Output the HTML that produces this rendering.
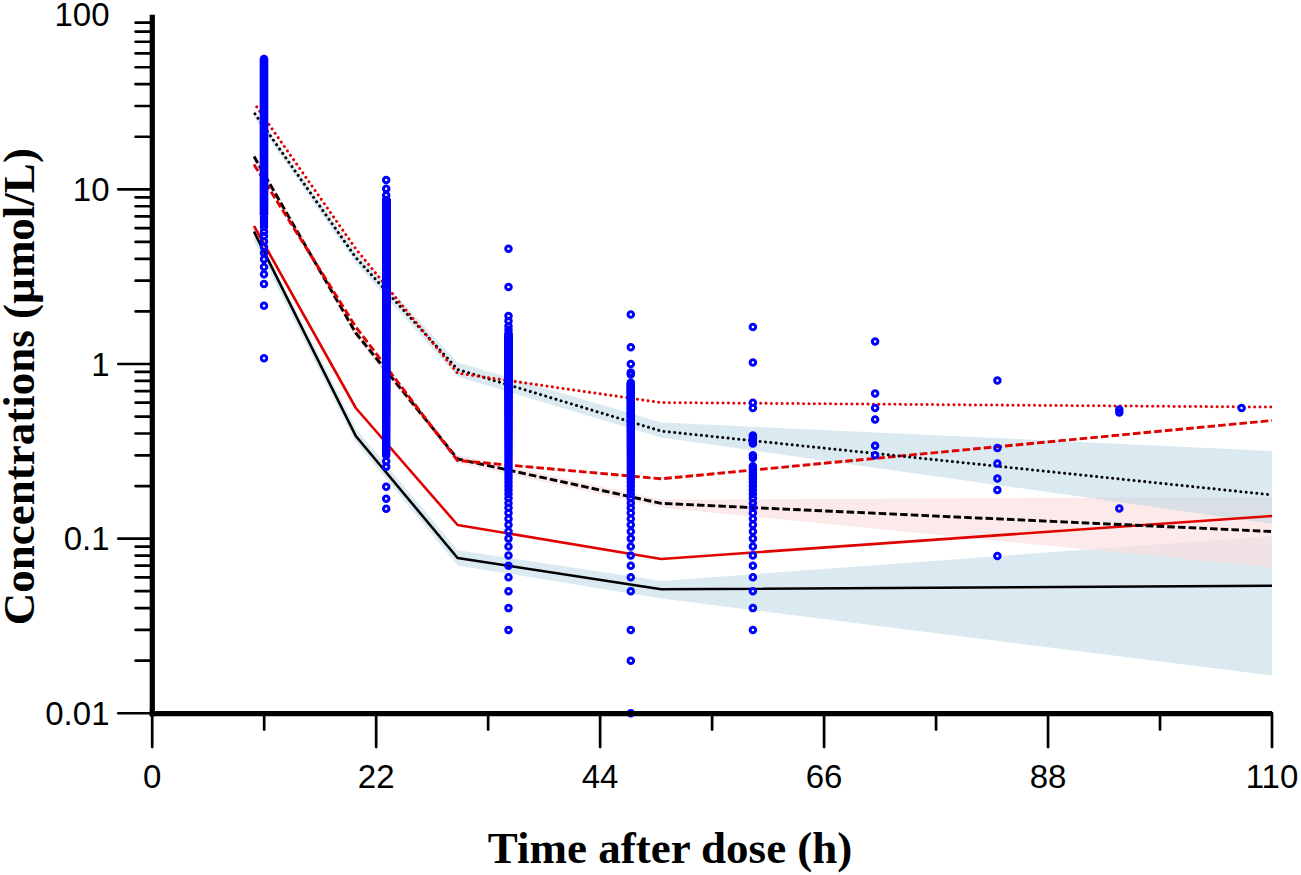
<!DOCTYPE html>
<html><head><meta charset="utf-8"><title>VPC</title>
<style>
html,body{margin:0;padding:0;background:#fff;}
body{width:1301px;height:875px;position:relative;overflow:hidden;font-family:"Liberation Sans",sans-serif;}
</style></head><body>
<svg width="1301" height="875" viewBox="0 0 1301 875" style="position:absolute;left:0;top:0">
<rect x="0" y="0" width="1301" height="875" fill="#ffffff"/>
<polygon points="254,228 355.8,428.5 457.6,550.2 661.2,581 1272,536 1272,675.5 661.2,598.5 457.6,565.4 355.8,442 254,241" fill="#bed7e4" fill-opacity="0.55"/>
<polygon points="254,152.5 355.8,328.5 457.6,455 661.2,499.6 1272,497 1272,567.6 661.2,507.6 457.6,463 355.8,337.5 254,160.5" fill="#fbe0e0" fill-opacity="0.7"/>
<polygon points="254,110 355.8,252 457.6,362.4 661.2,422.5 1272,450.9 1272,523.7 661.2,437.6 457.6,376.7 355.8,263 254,117" fill="#bed7e4" fill-opacity="0.55"/>
<g fill="none" stroke-linejoin="round">
<polyline points="254,231.5 355.8,436 457.6,558 661.2,589.3 1272,585.7" stroke="#000" stroke-width="2.6"/>
<polyline points="254,226 355.8,408 457.6,525 661.2,559 1272,516" stroke="#e00000" stroke-width="2.6"/>
<polyline points="254,156.5 355.8,333 457.6,459 661.2,503.4 1272,531.5" stroke="#000" stroke-width="2.9" stroke-dasharray="7.6 3.1"/>
<polyline points="254,164.5 355.8,327 457.6,460.5 661.2,478.8 1272,420.5" stroke="#e00000" stroke-width="2.9" stroke-dasharray="7.6 3.1"/>
<polyline points="254,112.5 355.8,257.5 457.6,369.5 661.2,431.1 1272,494.9" stroke="#000" stroke-width="3" stroke-dasharray="0.01 5.36" stroke-dashoffset="3.69" stroke-linecap="round"/>
<polyline points="254,103 355.8,248.8 457.6,373.2 661.2,402.6 1272,407.1" stroke="#e00000" stroke-width="3" stroke-dasharray="0.01 5.36" stroke-dashoffset="0.66" stroke-linecap="round"/>
</g>
<g fill="none" stroke="#0000ff" stroke-width="3">
<circle cx="264" cy="58.9" r="2.75"/>
<circle cx="264" cy="59.9" r="2.75"/>
<circle cx="264" cy="60.9" r="2.75"/>
<circle cx="264" cy="61.9" r="2.75"/>
<circle cx="264" cy="62.9" r="2.75"/>
<circle cx="264" cy="63.9" r="2.75"/>
<circle cx="264" cy="64.9" r="2.75"/>
<circle cx="264" cy="65.9" r="2.75"/>
<circle cx="264" cy="66.9" r="2.75"/>
<circle cx="264" cy="67.9" r="2.75"/>
<circle cx="264" cy="68.9" r="2.75"/>
<circle cx="264" cy="69.9" r="2.75"/>
<circle cx="264" cy="70.9" r="2.75"/>
<circle cx="264" cy="71.9" r="2.75"/>
<circle cx="264" cy="72.9" r="2.75"/>
<circle cx="264" cy="73.9" r="2.75"/>
<circle cx="264" cy="74.9" r="2.75"/>
<circle cx="264" cy="75.9" r="2.75"/>
<circle cx="264" cy="76.9" r="2.75"/>
<circle cx="264" cy="77.9" r="2.75"/>
<circle cx="264" cy="78.9" r="2.75"/>
<circle cx="264" cy="79.9" r="2.75"/>
<circle cx="264" cy="80.9" r="2.75"/>
<circle cx="264" cy="81.9" r="2.75"/>
<circle cx="264" cy="82.9" r="2.75"/>
<circle cx="264" cy="83.9" r="2.75"/>
<circle cx="264" cy="84.9" r="2.75"/>
<circle cx="264" cy="85.9" r="2.75"/>
<circle cx="264" cy="86.9" r="2.75"/>
<circle cx="264" cy="87.9" r="2.75"/>
<circle cx="264" cy="88.9" r="2.75"/>
<circle cx="264" cy="89.9" r="2.75"/>
<circle cx="264" cy="90.9" r="2.75"/>
<circle cx="264" cy="91.9" r="2.75"/>
<circle cx="264" cy="92.9" r="2.75"/>
<circle cx="264" cy="93.9" r="2.75"/>
<circle cx="264" cy="94.9" r="2.75"/>
<circle cx="264" cy="95.9" r="2.75"/>
<circle cx="264" cy="96.9" r="2.75"/>
<circle cx="264" cy="97.9" r="2.75"/>
<circle cx="264" cy="98.9" r="2.75"/>
<circle cx="264" cy="99.9" r="2.75"/>
<circle cx="264" cy="100.9" r="2.75"/>
<circle cx="264" cy="101.9" r="2.75"/>
<circle cx="264" cy="102.9" r="2.75"/>
<circle cx="264" cy="103.9" r="2.75"/>
<circle cx="264" cy="104.9" r="2.75"/>
<circle cx="264" cy="105.9" r="2.75"/>
<circle cx="264" cy="106.9" r="2.75"/>
<circle cx="264" cy="107.9" r="2.75"/>
<circle cx="264" cy="108.9" r="2.75"/>
<circle cx="264" cy="109.9" r="2.75"/>
<circle cx="264" cy="110.9" r="2.75"/>
<circle cx="264" cy="111.9" r="2.75"/>
<circle cx="264" cy="112.9" r="2.75"/>
<circle cx="264" cy="113.9" r="2.75"/>
<circle cx="264" cy="114.9" r="2.75"/>
<circle cx="264" cy="115.9" r="2.75"/>
<circle cx="264" cy="116.9" r="2.75"/>
<circle cx="264" cy="117.9" r="2.75"/>
<circle cx="264" cy="118.9" r="2.75"/>
<circle cx="264" cy="119.9" r="2.75"/>
<circle cx="264" cy="120.9" r="2.75"/>
<circle cx="264" cy="121.9" r="2.75"/>
<circle cx="264" cy="122.9" r="2.75"/>
<circle cx="264" cy="123.9" r="2.75"/>
<circle cx="264" cy="124.9" r="2.75"/>
<circle cx="264" cy="125.9" r="2.75"/>
<circle cx="264" cy="126.9" r="2.75"/>
<circle cx="264" cy="127.9" r="2.75"/>
<circle cx="264" cy="128.9" r="2.75"/>
<circle cx="264" cy="129.9" r="2.75"/>
<circle cx="264" cy="130.9" r="2.75"/>
<circle cx="264" cy="131.9" r="2.75"/>
<circle cx="264" cy="132.9" r="2.75"/>
<circle cx="264" cy="133.9" r="2.75"/>
<circle cx="264" cy="134.9" r="2.75"/>
<circle cx="264" cy="135.9" r="2.75"/>
<circle cx="264" cy="136.9" r="2.75"/>
<circle cx="264" cy="137.9" r="2.75"/>
<circle cx="264" cy="138.9" r="2.75"/>
<circle cx="264" cy="139.9" r="2.75"/>
<circle cx="264" cy="140.9" r="2.75"/>
<circle cx="264" cy="141.9" r="2.75"/>
<circle cx="264" cy="142.9" r="2.75"/>
<circle cx="264" cy="143.9" r="2.75"/>
<circle cx="264" cy="144.9" r="2.75"/>
<circle cx="264" cy="145.9" r="2.75"/>
<circle cx="264" cy="146.9" r="2.75"/>
<circle cx="264" cy="147.9" r="2.75"/>
<circle cx="264" cy="148.9" r="2.75"/>
<circle cx="264" cy="149.9" r="2.75"/>
<circle cx="264" cy="150.9" r="2.75"/>
<circle cx="264" cy="151.9" r="2.75"/>
<circle cx="264" cy="152.9" r="2.75"/>
<circle cx="264" cy="153.9" r="2.75"/>
<circle cx="264" cy="154.9" r="2.75"/>
<circle cx="264" cy="155.9" r="2.75"/>
<circle cx="264" cy="156.9" r="2.75"/>
<circle cx="264" cy="157.9" r="2.75"/>
<circle cx="264" cy="158.9" r="2.75"/>
<circle cx="264" cy="159.9" r="2.75"/>
<circle cx="264" cy="160.9" r="2.75"/>
<circle cx="264" cy="161.9" r="2.75"/>
<circle cx="264" cy="162.9" r="2.75"/>
<circle cx="264" cy="163.9" r="2.75"/>
<circle cx="264" cy="164.9" r="2.75"/>
<circle cx="264" cy="165.9" r="2.75"/>
<circle cx="264" cy="166.9" r="2.75"/>
<circle cx="264" cy="167.9" r="2.75"/>
<circle cx="264" cy="168.9" r="2.75"/>
<circle cx="264" cy="169.9" r="2.75"/>
<circle cx="264" cy="170.9" r="2.75"/>
<circle cx="264" cy="171.9" r="2.75"/>
<circle cx="264" cy="172.9" r="2.75"/>
<circle cx="264" cy="173.9" r="2.75"/>
<circle cx="264" cy="174.9" r="2.75"/>
<circle cx="264" cy="175.9" r="2.75"/>
<circle cx="264" cy="176.9" r="2.75"/>
<circle cx="264" cy="177.9" r="2.75"/>
<circle cx="264" cy="178.9" r="2.75"/>
<circle cx="264" cy="179.9" r="2.75"/>
<circle cx="264" cy="180.9" r="2.75"/>
<circle cx="264" cy="181.9" r="2.75"/>
<circle cx="264" cy="182.9" r="2.75"/>
<circle cx="264" cy="183.9" r="2.75"/>
<circle cx="264" cy="184.9" r="2.75"/>
<circle cx="264" cy="185.9" r="2.75"/>
<circle cx="264" cy="186.9" r="2.75"/>
<circle cx="264" cy="187.9" r="2.75"/>
<circle cx="264" cy="188.9" r="2.75"/>
<circle cx="264" cy="189.9" r="2.75"/>
<circle cx="264" cy="190.9" r="2.75"/>
<circle cx="264" cy="191.9" r="2.75"/>
<circle cx="264" cy="192.9" r="2.75"/>
<circle cx="264" cy="193.9" r="2.75"/>
<circle cx="264" cy="194.9" r="2.75"/>
<circle cx="264" cy="195.9" r="2.75"/>
<circle cx="264" cy="196.9" r="2.75"/>
<circle cx="264" cy="197.9" r="2.75"/>
<circle cx="264" cy="198.9" r="2.75"/>
<circle cx="264" cy="199.9" r="2.75"/>
<circle cx="264" cy="200.9" r="2.75"/>
<circle cx="264" cy="201.9" r="2.75"/>
<circle cx="264" cy="202.9" r="2.75"/>
<circle cx="264" cy="203.9" r="2.75"/>
<circle cx="264" cy="204.9" r="2.75"/>
<circle cx="264" cy="205.9" r="2.75"/>
<circle cx="264" cy="206.9" r="2.75"/>
<circle cx="264" cy="207.9" r="2.75"/>
<circle cx="264" cy="208.9" r="2.75"/>
<circle cx="264" cy="209.9" r="2.75"/>
<circle cx="264" cy="210.9" r="2.75"/>
<circle cx="264" cy="211.9" r="2.75"/>
<circle cx="264" cy="212.9" r="2.75"/>
<circle cx="264" cy="213.9" r="2.75"/>
<circle cx="264" cy="214" r="2.75"/>
<circle cx="264" cy="217.2" r="2.75"/>
<circle cx="264" cy="220.4" r="2.75"/>
<circle cx="264" cy="223.6" r="2.75"/>
<circle cx="264" cy="226.8" r="2.75"/>
<circle cx="264" cy="231.8" r="2.75"/>
<circle cx="264" cy="236" r="2.75"/>
<circle cx="264" cy="241.4" r="2.75"/>
<circle cx="264" cy="247.1" r="2.75"/>
<circle cx="264" cy="253.1" r="2.75"/>
<circle cx="264" cy="259.2" r="2.75"/>
<circle cx="264" cy="267" r="2.75"/>
<circle cx="264" cy="274.2" r="2.75"/>
<circle cx="264" cy="283.9" r="2.75"/>
<circle cx="264" cy="305.8" r="2.75"/>
<circle cx="264" cy="358.3" r="2.75"/>
<circle cx="386.2" cy="180.1" r="2.75"/>
<circle cx="386.2" cy="188.8" r="2.75"/>
<circle cx="386.2" cy="195.2" r="2.75"/>
<circle cx="386.2" cy="200.08" r="2.75"/>
<circle cx="386.2" cy="200.16" r="2.75"/>
<circle cx="386.2" cy="200.25" r="2.75"/>
<circle cx="386.2" cy="200.34" r="2.75"/>
<circle cx="386.2" cy="200.43" r="2.75"/>
<circle cx="386.2" cy="200.52" r="2.75"/>
<circle cx="386.2" cy="200.6" r="2.75"/>
<circle cx="386.2" cy="200.69" r="2.75"/>
<circle cx="386.2" cy="200.78" r="2.75"/>
<circle cx="386.2" cy="200.87" r="2.75"/>
<circle cx="386.2" cy="200.96" r="2.75"/>
<circle cx="386.2" cy="201.04" r="2.75"/>
<circle cx="386.2" cy="201.13" r="2.75"/>
<circle cx="386.2" cy="201.22" r="2.75"/>
<circle cx="386.2" cy="201.31" r="2.75"/>
<circle cx="386.2" cy="201.4" r="2.75"/>
<circle cx="386.2" cy="201.49" r="2.75"/>
<circle cx="386.2" cy="201.58" r="2.75"/>
<circle cx="386.2" cy="201.67" r="2.75"/>
<circle cx="386.2" cy="201.76" r="2.75"/>
<circle cx="386.2" cy="201.84" r="2.75"/>
<circle cx="386.2" cy="201.93" r="2.75"/>
<circle cx="386.2" cy="202.02" r="2.75"/>
<circle cx="386.2" cy="202.11" r="2.75"/>
<circle cx="386.2" cy="202.2" r="2.75"/>
<circle cx="386.2" cy="202.29" r="2.75"/>
<circle cx="386.2" cy="202.38" r="2.75"/>
<circle cx="386.2" cy="202.47" r="2.75"/>
<circle cx="386.2" cy="202.56" r="2.75"/>
<circle cx="386.2" cy="202.65" r="2.75"/>
<circle cx="386.2" cy="202.74" r="2.75"/>
<circle cx="386.2" cy="202.84" r="2.75"/>
<circle cx="386.2" cy="202.93" r="2.75"/>
<circle cx="386.2" cy="203.02" r="2.75"/>
<circle cx="386.2" cy="203.11" r="2.75"/>
<circle cx="386.2" cy="203.2" r="2.75"/>
<circle cx="386.2" cy="203.29" r="2.75"/>
<circle cx="386.2" cy="203.38" r="2.75"/>
<circle cx="386.2" cy="203.47" r="2.75"/>
<circle cx="386.2" cy="203.56" r="2.75"/>
<circle cx="386.2" cy="203.66" r="2.75"/>
<circle cx="386.2" cy="203.75" r="2.75"/>
<circle cx="386.2" cy="203.84" r="2.75"/>
<circle cx="386.2" cy="203.93" r="2.75"/>
<circle cx="386.2" cy="204.02" r="2.75"/>
<circle cx="386.2" cy="204.11" r="2.75"/>
<circle cx="386.2" cy="204.21" r="2.75"/>
<circle cx="386.2" cy="204.3" r="2.75"/>
<circle cx="386.2" cy="204.39" r="2.75"/>
<circle cx="386.2" cy="204.48" r="2.75"/>
<circle cx="386.2" cy="204.58" r="2.75"/>
<circle cx="386.2" cy="204.67" r="2.75"/>
<circle cx="386.2" cy="204.76" r="2.75"/>
<circle cx="386.2" cy="204.86" r="2.75"/>
<circle cx="386.2" cy="204.95" r="2.75"/>
<circle cx="386.2" cy="205.04" r="2.75"/>
<circle cx="386.2" cy="205.14" r="2.75"/>
<circle cx="386.2" cy="205.23" r="2.75"/>
<circle cx="386.2" cy="205.32" r="2.75"/>
<circle cx="386.2" cy="205.42" r="2.75"/>
<circle cx="386.2" cy="205.51" r="2.75"/>
<circle cx="386.2" cy="205.6" r="2.75"/>
<circle cx="386.2" cy="205.7" r="2.75"/>
<circle cx="386.2" cy="205.79" r="2.75"/>
<circle cx="386.2" cy="205.89" r="2.75"/>
<circle cx="386.2" cy="205.98" r="2.75"/>
<circle cx="386.2" cy="206.07" r="2.75"/>
<circle cx="386.2" cy="206.17" r="2.75"/>
<circle cx="386.2" cy="206.26" r="2.75"/>
<circle cx="386.2" cy="206.36" r="2.75"/>
<circle cx="386.2" cy="206.45" r="2.75"/>
<circle cx="386.2" cy="206.55" r="2.75"/>
<circle cx="386.2" cy="206.64" r="2.75"/>
<circle cx="386.2" cy="206.74" r="2.75"/>
<circle cx="386.2" cy="206.84" r="2.75"/>
<circle cx="386.2" cy="206.93" r="2.75"/>
<circle cx="386.2" cy="207.03" r="2.75"/>
<circle cx="386.2" cy="207.12" r="2.75"/>
<circle cx="386.2" cy="207.22" r="2.75"/>
<circle cx="386.2" cy="207.31" r="2.75"/>
<circle cx="386.2" cy="207.41" r="2.75"/>
<circle cx="386.2" cy="207.51" r="2.75"/>
<circle cx="386.2" cy="207.6" r="2.75"/>
<circle cx="386.2" cy="207.7" r="2.75"/>
<circle cx="386.2" cy="207.8" r="2.75"/>
<circle cx="386.2" cy="207.89" r="2.75"/>
<circle cx="386.2" cy="207.99" r="2.75"/>
<circle cx="386.2" cy="208.09" r="2.75"/>
<circle cx="386.2" cy="208.18" r="2.75"/>
<circle cx="386.2" cy="208.28" r="2.75"/>
<circle cx="386.2" cy="208.38" r="2.75"/>
<circle cx="386.2" cy="208.48" r="2.75"/>
<circle cx="386.2" cy="208.57" r="2.75"/>
<circle cx="386.2" cy="208.67" r="2.75"/>
<circle cx="386.2" cy="208.77" r="2.75"/>
<circle cx="386.2" cy="208.87" r="2.75"/>
<circle cx="386.2" cy="208.97" r="2.75"/>
<circle cx="386.2" cy="209.06" r="2.75"/>
<circle cx="386.2" cy="209.16" r="2.75"/>
<circle cx="386.2" cy="209.26" r="2.75"/>
<circle cx="386.2" cy="209.36" r="2.75"/>
<circle cx="386.2" cy="209.46" r="2.75"/>
<circle cx="386.2" cy="209.56" r="2.75"/>
<circle cx="386.2" cy="209.66" r="2.75"/>
<circle cx="386.2" cy="209.76" r="2.75"/>
<circle cx="386.2" cy="209.86" r="2.75"/>
<circle cx="386.2" cy="209.96" r="2.75"/>
<circle cx="386.2" cy="210.05" r="2.75"/>
<circle cx="386.2" cy="210.15" r="2.75"/>
<circle cx="386.2" cy="210.25" r="2.75"/>
<circle cx="386.2" cy="210.35" r="2.75"/>
<circle cx="386.2" cy="210.45" r="2.75"/>
<circle cx="386.2" cy="210.55" r="2.75"/>
<circle cx="386.2" cy="210.66" r="2.75"/>
<circle cx="386.2" cy="210.76" r="2.75"/>
<circle cx="386.2" cy="210.86" r="2.75"/>
<circle cx="386.2" cy="210.96" r="2.75"/>
<circle cx="386.2" cy="211.06" r="2.75"/>
<circle cx="386.2" cy="211.16" r="2.75"/>
<circle cx="386.2" cy="211.26" r="2.75"/>
<circle cx="386.2" cy="211.36" r="2.75"/>
<circle cx="386.2" cy="211.46" r="2.75"/>
<circle cx="386.2" cy="211.56" r="2.75"/>
<circle cx="386.2" cy="211.67" r="2.75"/>
<circle cx="386.2" cy="211.77" r="2.75"/>
<circle cx="386.2" cy="211.87" r="2.75"/>
<circle cx="386.2" cy="211.97" r="2.75"/>
<circle cx="386.2" cy="212.07" r="2.75"/>
<circle cx="386.2" cy="212.18" r="2.75"/>
<circle cx="386.2" cy="212.28" r="2.75"/>
<circle cx="386.2" cy="212.38" r="2.75"/>
<circle cx="386.2" cy="212.49" r="2.75"/>
<circle cx="386.2" cy="212.59" r="2.75"/>
<circle cx="386.2" cy="212.69" r="2.75"/>
<circle cx="386.2" cy="212.79" r="2.75"/>
<circle cx="386.2" cy="212.9" r="2.75"/>
<circle cx="386.2" cy="213" r="2.75"/>
<circle cx="386.2" cy="213.11" r="2.75"/>
<circle cx="386.2" cy="213.21" r="2.75"/>
<circle cx="386.2" cy="213.31" r="2.75"/>
<circle cx="386.2" cy="213.42" r="2.75"/>
<circle cx="386.2" cy="213.52" r="2.75"/>
<circle cx="386.2" cy="213.63" r="2.75"/>
<circle cx="386.2" cy="213.73" r="2.75"/>
<circle cx="386.2" cy="213.84" r="2.75"/>
<circle cx="386.2" cy="213.94" r="2.75"/>
<circle cx="386.2" cy="214.05" r="2.75"/>
<circle cx="386.2" cy="214.15" r="2.75"/>
<circle cx="386.2" cy="214.26" r="2.75"/>
<circle cx="386.2" cy="214.36" r="2.75"/>
<circle cx="386.2" cy="214.47" r="2.75"/>
<circle cx="386.2" cy="214.57" r="2.75"/>
<circle cx="386.2" cy="214.68" r="2.75"/>
<circle cx="386.2" cy="214.78" r="2.75"/>
<circle cx="386.2" cy="214.89" r="2.75"/>
<circle cx="386.2" cy="215" r="2.75"/>
<circle cx="386.2" cy="215.1" r="2.75"/>
<circle cx="386.2" cy="215.21" r="2.75"/>
<circle cx="386.2" cy="215.32" r="2.75"/>
<circle cx="386.2" cy="215.42" r="2.75"/>
<circle cx="386.2" cy="215.53" r="2.75"/>
<circle cx="386.2" cy="215.64" r="2.75"/>
<circle cx="386.2" cy="215.74" r="2.75"/>
<circle cx="386.2" cy="215.85" r="2.75"/>
<circle cx="386.2" cy="215.96" r="2.75"/>
<circle cx="386.2" cy="216.07" r="2.75"/>
<circle cx="386.2" cy="216.18" r="2.75"/>
<circle cx="386.2" cy="216.28" r="2.75"/>
<circle cx="386.2" cy="216.39" r="2.75"/>
<circle cx="386.2" cy="216.5" r="2.75"/>
<circle cx="386.2" cy="216.61" r="2.75"/>
<circle cx="386.2" cy="216.72" r="2.75"/>
<circle cx="386.2" cy="216.83" r="2.75"/>
<circle cx="386.2" cy="216.94" r="2.75"/>
<circle cx="386.2" cy="217.04" r="2.75"/>
<circle cx="386.2" cy="217.15" r="2.75"/>
<circle cx="386.2" cy="217.26" r="2.75"/>
<circle cx="386.2" cy="217.37" r="2.75"/>
<circle cx="386.2" cy="217.48" r="2.75"/>
<circle cx="386.2" cy="217.59" r="2.75"/>
<circle cx="386.2" cy="217.7" r="2.75"/>
<circle cx="386.2" cy="217.81" r="2.75"/>
<circle cx="386.2" cy="217.92" r="2.75"/>
<circle cx="386.2" cy="218.03" r="2.75"/>
<circle cx="386.2" cy="218.15" r="2.75"/>
<circle cx="386.2" cy="218.26" r="2.75"/>
<circle cx="386.2" cy="218.37" r="2.75"/>
<circle cx="386.2" cy="218.48" r="2.75"/>
<circle cx="386.2" cy="218.59" r="2.75"/>
<circle cx="386.2" cy="218.7" r="2.75"/>
<circle cx="386.2" cy="218.81" r="2.75"/>
<circle cx="386.2" cy="218.93" r="2.75"/>
<circle cx="386.2" cy="219.04" r="2.75"/>
<circle cx="386.2" cy="219.15" r="2.75"/>
<circle cx="386.2" cy="219.26" r="2.75"/>
<circle cx="386.2" cy="219.38" r="2.75"/>
<circle cx="386.2" cy="219.49" r="2.75"/>
<circle cx="386.2" cy="219.6" r="2.75"/>
<circle cx="386.2" cy="219.71" r="2.75"/>
<circle cx="386.2" cy="219.83" r="2.75"/>
<circle cx="386.2" cy="219.94" r="2.75"/>
<circle cx="386.2" cy="220.05" r="2.75"/>
<circle cx="386.2" cy="220.17" r="2.75"/>
<circle cx="386.2" cy="220.28" r="2.75"/>
<circle cx="386.2" cy="220.4" r="2.75"/>
<circle cx="386.2" cy="220.51" r="2.75"/>
<circle cx="386.2" cy="220.63" r="2.75"/>
<circle cx="386.2" cy="220.74" r="2.75"/>
<circle cx="386.2" cy="220.85" r="2.75"/>
<circle cx="386.2" cy="220.97" r="2.75"/>
<circle cx="386.2" cy="221.09" r="2.75"/>
<circle cx="386.2" cy="221.2" r="2.75"/>
<circle cx="386.2" cy="221.32" r="2.75"/>
<circle cx="386.2" cy="221.43" r="2.75"/>
<circle cx="386.2" cy="221.55" r="2.75"/>
<circle cx="386.2" cy="221.66" r="2.75"/>
<circle cx="386.2" cy="221.78" r="2.75"/>
<circle cx="386.2" cy="221.9" r="2.75"/>
<circle cx="386.2" cy="222.01" r="2.75"/>
<circle cx="386.2" cy="222.13" r="2.75"/>
<circle cx="386.2" cy="222.25" r="2.75"/>
<circle cx="386.2" cy="222.36" r="2.75"/>
<circle cx="386.2" cy="222.48" r="2.75"/>
<circle cx="386.2" cy="222.6" r="2.75"/>
<circle cx="386.2" cy="222.72" r="2.75"/>
<circle cx="386.2" cy="222.83" r="2.75"/>
<circle cx="386.2" cy="222.95" r="2.75"/>
<circle cx="386.2" cy="223.07" r="2.75"/>
<circle cx="386.2" cy="223.19" r="2.75"/>
<circle cx="386.2" cy="223.31" r="2.75"/>
<circle cx="386.2" cy="223.43" r="2.75"/>
<circle cx="386.2" cy="223.55" r="2.75"/>
<circle cx="386.2" cy="223.66" r="2.75"/>
<circle cx="386.2" cy="223.78" r="2.75"/>
<circle cx="386.2" cy="223.9" r="2.75"/>
<circle cx="386.2" cy="224.02" r="2.75"/>
<circle cx="386.2" cy="224.14" r="2.75"/>
<circle cx="386.2" cy="224.26" r="2.75"/>
<circle cx="386.2" cy="224.38" r="2.75"/>
<circle cx="386.2" cy="224.5" r="2.75"/>
<circle cx="386.2" cy="224.62" r="2.75"/>
<circle cx="386.2" cy="224.75" r="2.75"/>
<circle cx="386.2" cy="224.87" r="2.75"/>
<circle cx="386.2" cy="224.99" r="2.75"/>
<circle cx="386.2" cy="225.11" r="2.75"/>
<circle cx="386.2" cy="225.23" r="2.75"/>
<circle cx="386.2" cy="225.35" r="2.75"/>
<circle cx="386.2" cy="225.47" r="2.75"/>
<circle cx="386.2" cy="225.6" r="2.75"/>
<circle cx="386.2" cy="225.72" r="2.75"/>
<circle cx="386.2" cy="225.84" r="2.75"/>
<circle cx="386.2" cy="225.96" r="2.75"/>
<circle cx="386.2" cy="226.09" r="2.75"/>
<circle cx="386.2" cy="226.21" r="2.75"/>
<circle cx="386.2" cy="226.33" r="2.75"/>
<circle cx="386.2" cy="226.46" r="2.75"/>
<circle cx="386.2" cy="226.58" r="2.75"/>
<circle cx="386.2" cy="226.71" r="2.75"/>
<circle cx="386.2" cy="226.83" r="2.75"/>
<circle cx="386.2" cy="226.95" r="2.75"/>
<circle cx="386.2" cy="227.08" r="2.75"/>
<circle cx="386.2" cy="227.2" r="2.75"/>
<circle cx="386.2" cy="227.33" r="2.75"/>
<circle cx="386.2" cy="227.45" r="2.75"/>
<circle cx="386.2" cy="227.58" r="2.75"/>
<circle cx="386.2" cy="227.71" r="2.75"/>
<circle cx="386.2" cy="227.83" r="2.75"/>
<circle cx="386.2" cy="227.96" r="2.75"/>
<circle cx="386.2" cy="228.08" r="2.75"/>
<circle cx="386.2" cy="228.21" r="2.75"/>
<circle cx="386.2" cy="228.34" r="2.75"/>
<circle cx="386.2" cy="228.46" r="2.75"/>
<circle cx="386.2" cy="228.59" r="2.75"/>
<circle cx="386.2" cy="228.72" r="2.75"/>
<circle cx="386.2" cy="228.85" r="2.75"/>
<circle cx="386.2" cy="228.97" r="2.75"/>
<circle cx="386.2" cy="229.1" r="2.75"/>
<circle cx="386.2" cy="229.23" r="2.75"/>
<circle cx="386.2" cy="229.36" r="2.75"/>
<circle cx="386.2" cy="229.49" r="2.75"/>
<circle cx="386.2" cy="229.62" r="2.75"/>
<circle cx="386.2" cy="229.75" r="2.75"/>
<circle cx="386.2" cy="229.87" r="2.75"/>
<circle cx="386.2" cy="230" r="2.75"/>
<circle cx="386.2" cy="230.13" r="2.75"/>
<circle cx="386.2" cy="230.26" r="2.75"/>
<circle cx="386.2" cy="230.39" r="2.75"/>
<circle cx="386.2" cy="230.52" r="2.75"/>
<circle cx="386.2" cy="230.65" r="2.75"/>
<circle cx="386.2" cy="230.79" r="2.75"/>
<circle cx="386.2" cy="230.92" r="2.75"/>
<circle cx="386.2" cy="231.05" r="2.75"/>
<circle cx="386.2" cy="231.18" r="2.75"/>
<circle cx="386.2" cy="231.31" r="2.75"/>
<circle cx="386.2" cy="231.44" r="2.75"/>
<circle cx="386.2" cy="231.58" r="2.75"/>
<circle cx="386.2" cy="231.71" r="2.75"/>
<circle cx="386.2" cy="231.84" r="2.75"/>
<circle cx="386.2" cy="231.97" r="2.75"/>
<circle cx="386.2" cy="232.11" r="2.75"/>
<circle cx="386.2" cy="232.24" r="2.75"/>
<circle cx="386.2" cy="232.37" r="2.75"/>
<circle cx="386.2" cy="232.51" r="2.75"/>
<circle cx="386.2" cy="232.64" r="2.75"/>
<circle cx="386.2" cy="232.78" r="2.75"/>
<circle cx="386.2" cy="232.91" r="2.75"/>
<circle cx="386.2" cy="233.05" r="2.75"/>
<circle cx="386.2" cy="233.18" r="2.75"/>
<circle cx="386.2" cy="233.32" r="2.75"/>
<circle cx="386.2" cy="233.45" r="2.75"/>
<circle cx="386.2" cy="233.59" r="2.75"/>
<circle cx="386.2" cy="233.72" r="2.75"/>
<circle cx="386.2" cy="233.86" r="2.75"/>
<circle cx="386.2" cy="234" r="2.75"/>
<circle cx="386.2" cy="234.13" r="2.75"/>
<circle cx="386.2" cy="234.27" r="2.75"/>
<circle cx="386.2" cy="234.41" r="2.75"/>
<circle cx="386.2" cy="234.55" r="2.75"/>
<circle cx="386.2" cy="234.68" r="2.75"/>
<circle cx="386.2" cy="234.82" r="2.75"/>
<circle cx="386.2" cy="234.96" r="2.75"/>
<circle cx="386.2" cy="235.1" r="2.75"/>
<circle cx="386.2" cy="235.24" r="2.75"/>
<circle cx="386.2" cy="235.38" r="2.75"/>
<circle cx="386.2" cy="235.52" r="2.75"/>
<circle cx="386.2" cy="235.65" r="2.75"/>
<circle cx="386.2" cy="235.79" r="2.75"/>
<circle cx="386.2" cy="235.93" r="2.75"/>
<circle cx="386.2" cy="236.07" r="2.75"/>
<circle cx="386.2" cy="236.22" r="2.75"/>
<circle cx="386.2" cy="236.36" r="2.75"/>
<circle cx="386.2" cy="236.5" r="2.75"/>
<circle cx="386.2" cy="236.64" r="2.75"/>
<circle cx="386.2" cy="236.78" r="2.75"/>
<circle cx="386.2" cy="236.92" r="2.75"/>
<circle cx="386.2" cy="237.06" r="2.75"/>
<circle cx="386.2" cy="237.21" r="2.75"/>
<circle cx="386.2" cy="237.35" r="2.75"/>
<circle cx="386.2" cy="237.49" r="2.75"/>
<circle cx="386.2" cy="237.64" r="2.75"/>
<circle cx="386.2" cy="237.78" r="2.75"/>
<circle cx="386.2" cy="237.92" r="2.75"/>
<circle cx="386.2" cy="238.07" r="2.75"/>
<circle cx="386.2" cy="238.21" r="2.75"/>
<circle cx="386.2" cy="238.36" r="2.75"/>
<circle cx="386.2" cy="238.5" r="2.75"/>
<circle cx="386.2" cy="238.65" r="2.75"/>
<circle cx="386.2" cy="238.79" r="2.75"/>
<circle cx="386.2" cy="238.94" r="2.75"/>
<circle cx="386.2" cy="239.08" r="2.75"/>
<circle cx="386.2" cy="239.23" r="2.75"/>
<circle cx="386.2" cy="239.38" r="2.75"/>
<circle cx="386.2" cy="239.52" r="2.75"/>
<circle cx="386.2" cy="239.67" r="2.75"/>
<circle cx="386.2" cy="239.82" r="2.75"/>
<circle cx="386.2" cy="239.97" r="2.75"/>
<circle cx="386.2" cy="240.11" r="2.75"/>
<circle cx="386.2" cy="240.26" r="2.75"/>
<circle cx="386.2" cy="240.41" r="2.75"/>
<circle cx="386.2" cy="240.56" r="2.75"/>
<circle cx="386.2" cy="240.71" r="2.75"/>
<circle cx="386.2" cy="240.86" r="2.75"/>
<circle cx="386.2" cy="241.01" r="2.75"/>
<circle cx="386.2" cy="241.16" r="2.75"/>
<circle cx="386.2" cy="241.31" r="2.75"/>
<circle cx="386.2" cy="241.46" r="2.75"/>
<circle cx="386.2" cy="241.61" r="2.75"/>
<circle cx="386.2" cy="241.76" r="2.75"/>
<circle cx="386.2" cy="241.91" r="2.75"/>
<circle cx="386.2" cy="242.06" r="2.75"/>
<circle cx="386.2" cy="242.22" r="2.75"/>
<circle cx="386.2" cy="242.37" r="2.75"/>
<circle cx="386.2" cy="242.52" r="2.75"/>
<circle cx="386.2" cy="242.67" r="2.75"/>
<circle cx="386.2" cy="242.83" r="2.75"/>
<circle cx="386.2" cy="242.98" r="2.75"/>
<circle cx="386.2" cy="243.14" r="2.75"/>
<circle cx="386.2" cy="243.29" r="2.75"/>
<circle cx="386.2" cy="243.44" r="2.75"/>
<circle cx="386.2" cy="243.6" r="2.75"/>
<circle cx="386.2" cy="243.75" r="2.75"/>
<circle cx="386.2" cy="243.91" r="2.75"/>
<circle cx="386.2" cy="244.07" r="2.75"/>
<circle cx="386.2" cy="244.22" r="2.75"/>
<circle cx="386.2" cy="244.38" r="2.75"/>
<circle cx="386.2" cy="244.54" r="2.75"/>
<circle cx="386.2" cy="244.69" r="2.75"/>
<circle cx="386.2" cy="244.85" r="2.75"/>
<circle cx="386.2" cy="245.01" r="2.75"/>
<circle cx="386.2" cy="245.17" r="2.75"/>
<circle cx="386.2" cy="245.32" r="2.75"/>
<circle cx="386.2" cy="245.48" r="2.75"/>
<circle cx="386.2" cy="245.64" r="2.75"/>
<circle cx="386.2" cy="245.8" r="2.75"/>
<circle cx="386.2" cy="245.96" r="2.75"/>
<circle cx="386.2" cy="246.12" r="2.75"/>
<circle cx="386.2" cy="246.28" r="2.75"/>
<circle cx="386.2" cy="246.44" r="2.75"/>
<circle cx="386.2" cy="246.6" r="2.75"/>
<circle cx="386.2" cy="246.77" r="2.75"/>
<circle cx="386.2" cy="246.93" r="2.75"/>
<circle cx="386.2" cy="247.09" r="2.75"/>
<circle cx="386.2" cy="247.25" r="2.75"/>
<circle cx="386.2" cy="247.42" r="2.75"/>
<circle cx="386.2" cy="247.58" r="2.75"/>
<circle cx="386.2" cy="247.74" r="2.75"/>
<circle cx="386.2" cy="247.91" r="2.75"/>
<circle cx="386.2" cy="248.07" r="2.75"/>
<circle cx="386.2" cy="248.24" r="2.75"/>
<circle cx="386.2" cy="248.4" r="2.75"/>
<circle cx="386.2" cy="248.57" r="2.75"/>
<circle cx="386.2" cy="248.73" r="2.75"/>
<circle cx="386.2" cy="248.9" r="2.75"/>
<circle cx="386.2" cy="249.06" r="2.75"/>
<circle cx="386.2" cy="249.23" r="2.75"/>
<circle cx="386.2" cy="249.4" r="2.75"/>
<circle cx="386.2" cy="249.57" r="2.75"/>
<circle cx="386.2" cy="249.73" r="2.75"/>
<circle cx="386.2" cy="249.9" r="2.75"/>
<circle cx="386.2" cy="250.07" r="2.75"/>
<circle cx="386.2" cy="250.24" r="2.75"/>
<circle cx="386.2" cy="250.41" r="2.75"/>
<circle cx="386.2" cy="250.58" r="2.75"/>
<circle cx="386.2" cy="250.75" r="2.75"/>
<circle cx="386.2" cy="250.92" r="2.75"/>
<circle cx="386.2" cy="251.09" r="2.75"/>
<circle cx="386.2" cy="251.26" r="2.75"/>
<circle cx="386.2" cy="251.44" r="2.75"/>
<circle cx="386.2" cy="251.61" r="2.75"/>
<circle cx="386.2" cy="251.78" r="2.75"/>
<circle cx="386.2" cy="251.95" r="2.75"/>
<circle cx="386.2" cy="252.13" r="2.75"/>
<circle cx="386.2" cy="252.3" r="2.75"/>
<circle cx="386.2" cy="252.47" r="2.75"/>
<circle cx="386.2" cy="252.65" r="2.75"/>
<circle cx="386.2" cy="252.82" r="2.75"/>
<circle cx="386.2" cy="253" r="2.75"/>
<circle cx="386.2" cy="253.17" r="2.75"/>
<circle cx="386.2" cy="253.35" r="2.75"/>
<circle cx="386.2" cy="253.53" r="2.75"/>
<circle cx="386.2" cy="253.7" r="2.75"/>
<circle cx="386.2" cy="253.88" r="2.75"/>
<circle cx="386.2" cy="254.06" r="2.75"/>
<circle cx="386.2" cy="254.24" r="2.75"/>
<circle cx="386.2" cy="254.42" r="2.75"/>
<circle cx="386.2" cy="254.6" r="2.75"/>
<circle cx="386.2" cy="254.78" r="2.75"/>
<circle cx="386.2" cy="254.96" r="2.75"/>
<circle cx="386.2" cy="255.14" r="2.75"/>
<circle cx="386.2" cy="255.32" r="2.75"/>
<circle cx="386.2" cy="255.5" r="2.75"/>
<circle cx="386.2" cy="255.68" r="2.75"/>
<circle cx="386.2" cy="255.86" r="2.75"/>
<circle cx="386.2" cy="256.04" r="2.75"/>
<circle cx="386.2" cy="256.23" r="2.75"/>
<circle cx="386.2" cy="256.41" r="2.75"/>
<circle cx="386.2" cy="256.59" r="2.75"/>
<circle cx="386.2" cy="256.78" r="2.75"/>
<circle cx="386.2" cy="256.96" r="2.75"/>
<circle cx="386.2" cy="257.15" r="2.75"/>
<circle cx="386.2" cy="257.33" r="2.75"/>
<circle cx="386.2" cy="257.52" r="2.75"/>
<circle cx="386.2" cy="257.71" r="2.75"/>
<circle cx="386.2" cy="257.89" r="2.75"/>
<circle cx="386.2" cy="258.08" r="2.75"/>
<circle cx="386.2" cy="258.27" r="2.75"/>
<circle cx="386.2" cy="258.46" r="2.75"/>
<circle cx="386.2" cy="258.65" r="2.75"/>
<circle cx="386.2" cy="258.84" r="2.75"/>
<circle cx="386.2" cy="259.03" r="2.75"/>
<circle cx="386.2" cy="259.22" r="2.75"/>
<circle cx="386.2" cy="259.41" r="2.75"/>
<circle cx="386.2" cy="259.6" r="2.75"/>
<circle cx="386.2" cy="259.79" r="2.75"/>
<circle cx="386.2" cy="259.98" r="2.75"/>
<circle cx="386.2" cy="260.18" r="2.75"/>
<circle cx="386.2" cy="260.37" r="2.75"/>
<circle cx="386.2" cy="260.56" r="2.75"/>
<circle cx="386.2" cy="260.76" r="2.75"/>
<circle cx="386.2" cy="260.95" r="2.75"/>
<circle cx="386.2" cy="261.15" r="2.75"/>
<circle cx="386.2" cy="261.34" r="2.75"/>
<circle cx="386.2" cy="261.54" r="2.75"/>
<circle cx="386.2" cy="261.74" r="2.75"/>
<circle cx="386.2" cy="261.93" r="2.75"/>
<circle cx="386.2" cy="262.13" r="2.75"/>
<circle cx="386.2" cy="262.33" r="2.75"/>
<circle cx="386.2" cy="262.53" r="2.75"/>
<circle cx="386.2" cy="262.73" r="2.75"/>
<circle cx="386.2" cy="262.93" r="2.75"/>
<circle cx="386.2" cy="263.13" r="2.75"/>
<circle cx="386.2" cy="263.33" r="2.75"/>
<circle cx="386.2" cy="263.53" r="2.75"/>
<circle cx="386.2" cy="263.73" r="2.75"/>
<circle cx="386.2" cy="263.93" r="2.75"/>
<circle cx="386.2" cy="264.14" r="2.75"/>
<circle cx="386.2" cy="264.34" r="2.75"/>
<circle cx="386.2" cy="264.54" r="2.75"/>
<circle cx="386.2" cy="264.75" r="2.75"/>
<circle cx="386.2" cy="264.95" r="2.75"/>
<circle cx="386.2" cy="265.16" r="2.75"/>
<circle cx="386.2" cy="265.37" r="2.75"/>
<circle cx="386.2" cy="265.57" r="2.75"/>
<circle cx="386.2" cy="265.78" r="2.75"/>
<circle cx="386.2" cy="265.99" r="2.75"/>
<circle cx="386.2" cy="266.2" r="2.75"/>
<circle cx="386.2" cy="266.41" r="2.75"/>
<circle cx="386.2" cy="266.62" r="2.75"/>
<circle cx="386.2" cy="266.83" r="2.75"/>
<circle cx="386.2" cy="267.04" r="2.75"/>
<circle cx="386.2" cy="267.25" r="2.75"/>
<circle cx="386.2" cy="267.46" r="2.75"/>
<circle cx="386.2" cy="267.67" r="2.75"/>
<circle cx="386.2" cy="267.89" r="2.75"/>
<circle cx="386.2" cy="268.1" r="2.75"/>
<circle cx="386.2" cy="268.32" r="2.75"/>
<circle cx="386.2" cy="268.53" r="2.75"/>
<circle cx="386.2" cy="268.75" r="2.75"/>
<circle cx="386.2" cy="268.96" r="2.75"/>
<circle cx="386.2" cy="269.18" r="2.75"/>
<circle cx="386.2" cy="269.4" r="2.75"/>
<circle cx="386.2" cy="269.62" r="2.75"/>
<circle cx="386.2" cy="269.84" r="2.75"/>
<circle cx="386.2" cy="270.06" r="2.75"/>
<circle cx="386.2" cy="270.28" r="2.75"/>
<circle cx="386.2" cy="270.5" r="2.75"/>
<circle cx="386.2" cy="270.72" r="2.75"/>
<circle cx="386.2" cy="270.94" r="2.75"/>
<circle cx="386.2" cy="271.16" r="2.75"/>
<circle cx="386.2" cy="271.39" r="2.75"/>
<circle cx="386.2" cy="271.61" r="2.75"/>
<circle cx="386.2" cy="271.83" r="2.75"/>
<circle cx="386.2" cy="272.06" r="2.75"/>
<circle cx="386.2" cy="272.29" r="2.75"/>
<circle cx="386.2" cy="272.51" r="2.75"/>
<circle cx="386.2" cy="272.74" r="2.75"/>
<circle cx="386.2" cy="272.97" r="2.75"/>
<circle cx="386.2" cy="273.2" r="2.75"/>
<circle cx="386.2" cy="273.43" r="2.75"/>
<circle cx="386.2" cy="273.66" r="2.75"/>
<circle cx="386.2" cy="273.89" r="2.75"/>
<circle cx="386.2" cy="274.12" r="2.75"/>
<circle cx="386.2" cy="274.35" r="2.75"/>
<circle cx="386.2" cy="274.58" r="2.75"/>
<circle cx="386.2" cy="274.82" r="2.75"/>
<circle cx="386.2" cy="275.05" r="2.75"/>
<circle cx="386.2" cy="275.29" r="2.75"/>
<circle cx="386.2" cy="275.52" r="2.75"/>
<circle cx="386.2" cy="275.76" r="2.75"/>
<circle cx="386.2" cy="276" r="2.75"/>
<circle cx="386.2" cy="276.24" r="2.75"/>
<circle cx="386.2" cy="276.48" r="2.75"/>
<circle cx="386.2" cy="276.71" r="2.75"/>
<circle cx="386.2" cy="276.96" r="2.75"/>
<circle cx="386.2" cy="277.2" r="2.75"/>
<circle cx="386.2" cy="277.44" r="2.75"/>
<circle cx="386.2" cy="277.68" r="2.75"/>
<circle cx="386.2" cy="277.92" r="2.75"/>
<circle cx="386.2" cy="278.17" r="2.75"/>
<circle cx="386.2" cy="278.41" r="2.75"/>
<circle cx="386.2" cy="278.66" r="2.75"/>
<circle cx="386.2" cy="278.91" r="2.75"/>
<circle cx="386.2" cy="279.15" r="2.75"/>
<circle cx="386.2" cy="279.4" r="2.75"/>
<circle cx="386.2" cy="279.65" r="2.75"/>
<circle cx="386.2" cy="279.9" r="2.75"/>
<circle cx="386.2" cy="280.15" r="2.75"/>
<circle cx="386.2" cy="280.4" r="2.75"/>
<circle cx="386.2" cy="280.66" r="2.75"/>
<circle cx="386.2" cy="280.91" r="2.75"/>
<circle cx="386.2" cy="281.16" r="2.75"/>
<circle cx="386.2" cy="281.42" r="2.75"/>
<circle cx="386.2" cy="281.67" r="2.75"/>
<circle cx="386.2" cy="281.93" r="2.75"/>
<circle cx="386.2" cy="282.19" r="2.75"/>
<circle cx="386.2" cy="282.45" r="2.75"/>
<circle cx="386.2" cy="282.71" r="2.75"/>
<circle cx="386.2" cy="282.97" r="2.75"/>
<circle cx="386.2" cy="283.23" r="2.75"/>
<circle cx="386.2" cy="283.49" r="2.75"/>
<circle cx="386.2" cy="283.75" r="2.75"/>
<circle cx="386.2" cy="284.02" r="2.75"/>
<circle cx="386.2" cy="284.28" r="2.75"/>
<circle cx="386.2" cy="284.55" r="2.75"/>
<circle cx="386.2" cy="284.81" r="2.75"/>
<circle cx="386.2" cy="285.08" r="2.75"/>
<circle cx="386.2" cy="285.35" r="2.75"/>
<circle cx="386.2" cy="285.62" r="2.75"/>
<circle cx="386.2" cy="285.89" r="2.75"/>
<circle cx="386.2" cy="286.16" r="2.75"/>
<circle cx="386.2" cy="286.43" r="2.75"/>
<circle cx="386.2" cy="286.71" r="2.75"/>
<circle cx="386.2" cy="286.98" r="2.75"/>
<circle cx="386.2" cy="287.25" r="2.75"/>
<circle cx="386.2" cy="287.53" r="2.75"/>
<circle cx="386.2" cy="287.81" r="2.75"/>
<circle cx="386.2" cy="288.09" r="2.75"/>
<circle cx="386.2" cy="288.37" r="2.75"/>
<circle cx="386.2" cy="288.65" r="2.75"/>
<circle cx="386.2" cy="288.93" r="2.75"/>
<circle cx="386.2" cy="289.21" r="2.75"/>
<circle cx="386.2" cy="289.49" r="2.75"/>
<circle cx="386.2" cy="289.78" r="2.75"/>
<circle cx="386.2" cy="290.06" r="2.75"/>
<circle cx="386.2" cy="290.35" r="2.75"/>
<circle cx="386.2" cy="290.64" r="2.75"/>
<circle cx="386.2" cy="290.93" r="2.75"/>
<circle cx="386.2" cy="291.22" r="2.75"/>
<circle cx="386.2" cy="291.51" r="2.75"/>
<circle cx="386.2" cy="291.8" r="2.75"/>
<circle cx="386.2" cy="292.09" r="2.75"/>
<circle cx="386.2" cy="292.39" r="2.75"/>
<circle cx="386.2" cy="292.68" r="2.75"/>
<circle cx="386.2" cy="292.98" r="2.75"/>
<circle cx="386.2" cy="293.28" r="2.75"/>
<circle cx="386.2" cy="293.58" r="2.75"/>
<circle cx="386.2" cy="293.88" r="2.75"/>
<circle cx="386.2" cy="294.18" r="2.75"/>
<circle cx="386.2" cy="294.48" r="2.75"/>
<circle cx="386.2" cy="294.79" r="2.75"/>
<circle cx="386.2" cy="295.09" r="2.75"/>
<circle cx="386.2" cy="295.4" r="2.75"/>
<circle cx="386.2" cy="295.71" r="2.75"/>
<circle cx="386.2" cy="296.02" r="2.75"/>
<circle cx="386.2" cy="296.33" r="2.75"/>
<circle cx="386.2" cy="296.64" r="2.75"/>
<circle cx="386.2" cy="296.95" r="2.75"/>
<circle cx="386.2" cy="297.26" r="2.75"/>
<circle cx="386.2" cy="297.58" r="2.75"/>
<circle cx="386.2" cy="297.9" r="2.75"/>
<circle cx="386.2" cy="298.21" r="2.75"/>
<circle cx="386.2" cy="298.53" r="2.75"/>
<circle cx="386.2" cy="298.85" r="2.75"/>
<circle cx="386.2" cy="299.18" r="2.75"/>
<circle cx="386.2" cy="299.5" r="2.75"/>
<circle cx="386.2" cy="299.82" r="2.75"/>
<circle cx="386.2" cy="300.15" r="2.75"/>
<circle cx="386.2" cy="300.48" r="2.75"/>
<circle cx="386.2" cy="300.81" r="2.75"/>
<circle cx="386.2" cy="301.14" r="2.75"/>
<circle cx="386.2" cy="301.47" r="2.75"/>
<circle cx="386.2" cy="301.8" r="2.75"/>
<circle cx="386.2" cy="302.14" r="2.75"/>
<circle cx="386.2" cy="302.47" r="2.75"/>
<circle cx="386.2" cy="302.81" r="2.75"/>
<circle cx="386.2" cy="303.15" r="2.75"/>
<circle cx="386.2" cy="303.49" r="2.75"/>
<circle cx="386.2" cy="303.84" r="2.75"/>
<circle cx="386.2" cy="304.18" r="2.75"/>
<circle cx="386.2" cy="304.52" r="2.75"/>
<circle cx="386.2" cy="304.87" r="2.75"/>
<circle cx="386.2" cy="305.22" r="2.75"/>
<circle cx="386.2" cy="305.57" r="2.75"/>
<circle cx="386.2" cy="305.92" r="2.75"/>
<circle cx="386.2" cy="306.28" r="2.75"/>
<circle cx="386.2" cy="306.63" r="2.75"/>
<circle cx="386.2" cy="306.99" r="2.75"/>
<circle cx="386.2" cy="307.35" r="2.75"/>
<circle cx="386.2" cy="307.71" r="2.75"/>
<circle cx="386.2" cy="308.07" r="2.75"/>
<circle cx="386.2" cy="308.43" r="2.75"/>
<circle cx="386.2" cy="308.8" r="2.75"/>
<circle cx="386.2" cy="309.17" r="2.75"/>
<circle cx="386.2" cy="309.54" r="2.75"/>
<circle cx="386.2" cy="309.91" r="2.75"/>
<circle cx="386.2" cy="310.28" r="2.75"/>
<circle cx="386.2" cy="310.65" r="2.75"/>
<circle cx="386.2" cy="311.03" r="2.75"/>
<circle cx="386.2" cy="311.41" r="2.75"/>
<circle cx="386.2" cy="311.79" r="2.75"/>
<circle cx="386.2" cy="312.17" r="2.75"/>
<circle cx="386.2" cy="312.55" r="2.75"/>
<circle cx="386.2" cy="312.94" r="2.75"/>
<circle cx="386.2" cy="313.33" r="2.75"/>
<circle cx="386.2" cy="313.72" r="2.75"/>
<circle cx="386.2" cy="314.11" r="2.75"/>
<circle cx="386.2" cy="314.5" r="2.75"/>
<circle cx="386.2" cy="314.9" r="2.75"/>
<circle cx="386.2" cy="315.3" r="2.75"/>
<circle cx="386.2" cy="315.7" r="2.75"/>
<circle cx="386.2" cy="316.1" r="2.75"/>
<circle cx="386.2" cy="316.51" r="2.75"/>
<circle cx="386.2" cy="316.91" r="2.75"/>
<circle cx="386.2" cy="317.32" r="2.75"/>
<circle cx="386.2" cy="317.73" r="2.75"/>
<circle cx="386.2" cy="318.15" r="2.75"/>
<circle cx="386.2" cy="318.56" r="2.75"/>
<circle cx="386.2" cy="318.98" r="2.75"/>
<circle cx="386.2" cy="319.4" r="2.75"/>
<circle cx="386.2" cy="319.82" r="2.75"/>
<circle cx="386.2" cy="320.25" r="2.75"/>
<circle cx="386.2" cy="320.67" r="2.75"/>
<circle cx="386.2" cy="321.1" r="2.75"/>
<circle cx="386.2" cy="321.54" r="2.75"/>
<circle cx="386.2" cy="321.97" r="2.75"/>
<circle cx="386.2" cy="322.41" r="2.75"/>
<circle cx="386.2" cy="322.85" r="2.75"/>
<circle cx="386.2" cy="323.29" r="2.75"/>
<circle cx="386.2" cy="323.73" r="2.75"/>
<circle cx="386.2" cy="324.18" r="2.75"/>
<circle cx="386.2" cy="324.63" r="2.75"/>
<circle cx="386.2" cy="325.08" r="2.75"/>
<circle cx="386.2" cy="325.54" r="2.75"/>
<circle cx="386.2" cy="326" r="2.75"/>
<circle cx="386.2" cy="326.46" r="2.75"/>
<circle cx="386.2" cy="326.92" r="2.75"/>
<circle cx="386.2" cy="327.39" r="2.75"/>
<circle cx="386.2" cy="327.86" r="2.75"/>
<circle cx="386.2" cy="328.33" r="2.75"/>
<circle cx="386.2" cy="328.81" r="2.75"/>
<circle cx="386.2" cy="329.29" r="2.75"/>
<circle cx="386.2" cy="329.77" r="2.75"/>
<circle cx="386.2" cy="330.25" r="2.75"/>
<circle cx="386.2" cy="330.74" r="2.75"/>
<circle cx="386.2" cy="331.23" r="2.75"/>
<circle cx="386.2" cy="331.73" r="2.75"/>
<circle cx="386.2" cy="332.22" r="2.75"/>
<circle cx="386.2" cy="332.72" r="2.75"/>
<circle cx="386.2" cy="333.23" r="2.75"/>
<circle cx="386.2" cy="333.73" r="2.75"/>
<circle cx="386.2" cy="334.25" r="2.75"/>
<circle cx="386.2" cy="334.76" r="2.75"/>
<circle cx="386.2" cy="335.28" r="2.75"/>
<circle cx="386.2" cy="335.8" r="2.75"/>
<circle cx="386.2" cy="336.32" r="2.75"/>
<circle cx="386.2" cy="336.85" r="2.75"/>
<circle cx="386.2" cy="337.38" r="2.75"/>
<circle cx="386.2" cy="337.92" r="2.75"/>
<circle cx="386.2" cy="338.46" r="2.75"/>
<circle cx="386.2" cy="339" r="2.75"/>
<circle cx="386.2" cy="339.55" r="2.75"/>
<circle cx="386.2" cy="340.1" r="2.75"/>
<circle cx="386.2" cy="340.66" r="2.75"/>
<circle cx="386.2" cy="341.22" r="2.75"/>
<circle cx="386.2" cy="341.78" r="2.75"/>
<circle cx="386.2" cy="342.35" r="2.75"/>
<circle cx="386.2" cy="342.92" r="2.75"/>
<circle cx="386.2" cy="343.5" r="2.75"/>
<circle cx="386.2" cy="344.08" r="2.75"/>
<circle cx="386.2" cy="344.67" r="2.75"/>
<circle cx="386.2" cy="345.26" r="2.75"/>
<circle cx="386.2" cy="345.85" r="2.75"/>
<circle cx="386.2" cy="346.45" r="2.75"/>
<circle cx="386.2" cy="347.06" r="2.75"/>
<circle cx="386.2" cy="347.66" r="2.75"/>
<circle cx="386.2" cy="348.28" r="2.75"/>
<circle cx="386.2" cy="348.9" r="2.75"/>
<circle cx="386.2" cy="349.52" r="2.75"/>
<circle cx="386.2" cy="350.15" r="2.75"/>
<circle cx="386.2" cy="350.79" r="2.75"/>
<circle cx="386.2" cy="351.43" r="2.75"/>
<circle cx="386.2" cy="352.07" r="2.75"/>
<circle cx="386.2" cy="352.72" r="2.75"/>
<circle cx="386.2" cy="353.38" r="2.75"/>
<circle cx="386.2" cy="354.04" r="2.75"/>
<circle cx="386.2" cy="354.71" r="2.75"/>
<circle cx="386.2" cy="355.38" r="2.75"/>
<circle cx="386.2" cy="356.06" r="2.75"/>
<circle cx="386.2" cy="356.75" r="2.75"/>
<circle cx="386.2" cy="357.44" r="2.75"/>
<circle cx="386.2" cy="358.14" r="2.75"/>
<circle cx="386.2" cy="358.85" r="2.75"/>
<circle cx="386.2" cy="359.56" r="2.75"/>
<circle cx="386.2" cy="360.28" r="2.75"/>
<circle cx="386.2" cy="361.01" r="2.75"/>
<circle cx="386.2" cy="361.74" r="2.75"/>
<circle cx="386.2" cy="362.48" r="2.75"/>
<circle cx="386.2" cy="363.23" r="2.75"/>
<circle cx="386.2" cy="363.98" r="2.75"/>
<circle cx="386.2" cy="364.74" r="2.75"/>
<circle cx="386.2" cy="365.51" r="2.75"/>
<circle cx="386.2" cy="366.29" r="2.75"/>
<circle cx="386.2" cy="367.08" r="2.75"/>
<circle cx="386.2" cy="367.87" r="2.75"/>
<circle cx="386.2" cy="368.67" r="2.75"/>
<circle cx="386.2" cy="369.48" r="2.75"/>
<circle cx="386.2" cy="370.3" r="2.75"/>
<circle cx="386.2" cy="371.13" r="2.75"/>
<circle cx="386.2" cy="371.97" r="2.75"/>
<circle cx="386.2" cy="372.82" r="2.75"/>
<circle cx="386.2" cy="373.68" r="2.75"/>
<circle cx="386.2" cy="374.54" r="2.75"/>
<circle cx="386.2" cy="375.42" r="2.75"/>
<circle cx="386.2" cy="376.31" r="2.75"/>
<circle cx="386.2" cy="377.2" r="2.75"/>
<circle cx="386.2" cy="378.11" r="2.75"/>
<circle cx="386.2" cy="379.03" r="2.75"/>
<circle cx="386.2" cy="379.96" r="2.75"/>
<circle cx="386.2" cy="380.9" r="2.75"/>
<circle cx="386.2" cy="381.86" r="2.75"/>
<circle cx="386.2" cy="382.82" r="2.75"/>
<circle cx="386.2" cy="383.8" r="2.75"/>
<circle cx="386.2" cy="384.79" r="2.75"/>
<circle cx="386.2" cy="385.8" r="2.75"/>
<circle cx="386.2" cy="386.82" r="2.75"/>
<circle cx="386.2" cy="387.85" r="2.75"/>
<circle cx="386.2" cy="388.9" r="2.75"/>
<circle cx="386.2" cy="389.96" r="2.75"/>
<circle cx="386.2" cy="391.03" r="2.75"/>
<circle cx="386.2" cy="392.12" r="2.75"/>
<circle cx="386.2" cy="393.23" r="2.75"/>
<circle cx="386.2" cy="394.35" r="2.75"/>
<circle cx="386.2" cy="395.49" r="2.75"/>
<circle cx="386.2" cy="396.65" r="2.75"/>
<circle cx="386.2" cy="397.83" r="2.75"/>
<circle cx="386.2" cy="399.02" r="2.75"/>
<circle cx="386.2" cy="400.24" r="2.75"/>
<circle cx="386.2" cy="401.47" r="2.75"/>
<circle cx="386.2" cy="402.72" r="2.75"/>
<circle cx="386.2" cy="404" r="2.75"/>
<circle cx="386.2" cy="405.29" r="2.75"/>
<circle cx="386.2" cy="406.61" r="2.75"/>
<circle cx="386.2" cy="407.96" r="2.75"/>
<circle cx="386.2" cy="409.32" r="2.75"/>
<circle cx="386.2" cy="410.71" r="2.75"/>
<circle cx="386.2" cy="412.13" r="2.75"/>
<circle cx="386.2" cy="413.58" r="2.75"/>
<circle cx="386.2" cy="415.05" r="2.75"/>
<circle cx="386.2" cy="416.55" r="2.75"/>
<circle cx="386.2" cy="418.08" r="2.75"/>
<circle cx="386.2" cy="419.65" r="2.75"/>
<circle cx="386.2" cy="421.24" r="2.75"/>
<circle cx="386.2" cy="422.88" r="2.75"/>
<circle cx="386.2" cy="424.54" r="2.75"/>
<circle cx="386.2" cy="426.25" r="2.75"/>
<circle cx="386.2" cy="427.99" r="2.75"/>
<circle cx="386.2" cy="429.78" r="2.75"/>
<circle cx="386.2" cy="431.6" r="2.75"/>
<circle cx="386.2" cy="433.48" r="2.75"/>
<circle cx="386.2" cy="435.4" r="2.75"/>
<circle cx="386.2" cy="437.37" r="2.75"/>
<circle cx="386.2" cy="439.39" r="2.75"/>
<circle cx="386.2" cy="441.47" r="2.75"/>
<circle cx="386.2" cy="443.6" r="2.75"/>
<circle cx="386.2" cy="445.8" r="2.75"/>
<circle cx="386.2" cy="448.07" r="2.75"/>
<circle cx="386.2" cy="450.4" r="2.75"/>
<circle cx="386.2" cy="452.81" r="2.75"/>
<circle cx="386.2" cy="455.3" r="2.75"/>
<circle cx="386.2" cy="461.2" r="2.75"/>
<circle cx="386.2" cy="466.8" r="2.75"/>
<circle cx="386.2" cy="486.8" r="2.75"/>
<circle cx="386.2" cy="498.8" r="2.75"/>
<circle cx="386.2" cy="508.7" r="2.75"/>
<circle cx="508.5" cy="248.8" r="2.75"/>
<circle cx="508.5" cy="286.9" r="2.75"/>
<circle cx="508.5" cy="316.1" r="2.75"/>
<circle cx="508.5" cy="321.1" r="2.75"/>
<circle cx="508.5" cy="326" r="2.75"/>
<circle cx="508.5" cy="329.77" r="2.75"/>
<circle cx="508.5" cy="333.23" r="2.75"/>
<circle cx="508.5" cy="335.28" r="2.75"/>
<circle cx="508.5" cy="335.8" r="2.75"/>
<circle cx="508.5" cy="336.32" r="2.75"/>
<circle cx="508.5" cy="336.85" r="2.75"/>
<circle cx="508.5" cy="337.38" r="2.75"/>
<circle cx="508.5" cy="337.92" r="2.75"/>
<circle cx="508.5" cy="338.46" r="2.75"/>
<circle cx="508.5" cy="339" r="2.75"/>
<circle cx="508.5" cy="339.55" r="2.75"/>
<circle cx="508.5" cy="340.1" r="2.75"/>
<circle cx="508.5" cy="340.66" r="2.75"/>
<circle cx="508.5" cy="341.22" r="2.75"/>
<circle cx="508.5" cy="341.78" r="2.75"/>
<circle cx="508.5" cy="342.35" r="2.75"/>
<circle cx="508.5" cy="342.92" r="2.75"/>
<circle cx="508.5" cy="343.5" r="2.75"/>
<circle cx="508.5" cy="344.08" r="2.75"/>
<circle cx="508.5" cy="344.67" r="2.75"/>
<circle cx="508.5" cy="345.26" r="2.75"/>
<circle cx="508.5" cy="345.85" r="2.75"/>
<circle cx="508.5" cy="346.45" r="2.75"/>
<circle cx="508.5" cy="347.06" r="2.75"/>
<circle cx="508.5" cy="347.66" r="2.75"/>
<circle cx="508.5" cy="348.28" r="2.75"/>
<circle cx="508.5" cy="348.9" r="2.75"/>
<circle cx="508.5" cy="349.52" r="2.75"/>
<circle cx="508.5" cy="350.15" r="2.75"/>
<circle cx="508.5" cy="350.79" r="2.75"/>
<circle cx="508.5" cy="351.43" r="2.75"/>
<circle cx="508.5" cy="352.07" r="2.75"/>
<circle cx="508.5" cy="352.72" r="2.75"/>
<circle cx="508.5" cy="353.38" r="2.75"/>
<circle cx="508.5" cy="354.04" r="2.75"/>
<circle cx="508.5" cy="354.71" r="2.75"/>
<circle cx="508.5" cy="355.38" r="2.75"/>
<circle cx="508.5" cy="356.06" r="2.75"/>
<circle cx="508.5" cy="356.75" r="2.75"/>
<circle cx="508.5" cy="357.44" r="2.75"/>
<circle cx="508.5" cy="358.14" r="2.75"/>
<circle cx="508.5" cy="358.85" r="2.75"/>
<circle cx="508.5" cy="359.56" r="2.75"/>
<circle cx="508.5" cy="360.28" r="2.75"/>
<circle cx="508.5" cy="361.01" r="2.75"/>
<circle cx="508.5" cy="361.74" r="2.75"/>
<circle cx="508.5" cy="362.48" r="2.75"/>
<circle cx="508.5" cy="363.23" r="2.75"/>
<circle cx="508.5" cy="363.98" r="2.75"/>
<circle cx="508.5" cy="364.74" r="2.75"/>
<circle cx="508.5" cy="365.51" r="2.75"/>
<circle cx="508.5" cy="366.29" r="2.75"/>
<circle cx="508.5" cy="367.08" r="2.75"/>
<circle cx="508.5" cy="367.87" r="2.75"/>
<circle cx="508.5" cy="368.67" r="2.75"/>
<circle cx="508.5" cy="369.48" r="2.75"/>
<circle cx="508.5" cy="370.3" r="2.75"/>
<circle cx="508.5" cy="371.13" r="2.75"/>
<circle cx="508.5" cy="371.97" r="2.75"/>
<circle cx="508.5" cy="372.82" r="2.75"/>
<circle cx="508.5" cy="373.68" r="2.75"/>
<circle cx="508.5" cy="374.54" r="2.75"/>
<circle cx="508.5" cy="375.42" r="2.75"/>
<circle cx="508.5" cy="376.31" r="2.75"/>
<circle cx="508.5" cy="377.2" r="2.75"/>
<circle cx="508.5" cy="378.11" r="2.75"/>
<circle cx="508.5" cy="379.03" r="2.75"/>
<circle cx="508.5" cy="379.96" r="2.75"/>
<circle cx="508.5" cy="380.9" r="2.75"/>
<circle cx="508.5" cy="381.86" r="2.75"/>
<circle cx="508.5" cy="382.82" r="2.75"/>
<circle cx="508.5" cy="383.8" r="2.75"/>
<circle cx="508.5" cy="384.79" r="2.75"/>
<circle cx="508.5" cy="385.8" r="2.75"/>
<circle cx="508.5" cy="386.82" r="2.75"/>
<circle cx="508.5" cy="387.85" r="2.75"/>
<circle cx="508.5" cy="388.9" r="2.75"/>
<circle cx="508.5" cy="389.96" r="2.75"/>
<circle cx="508.5" cy="391.03" r="2.75"/>
<circle cx="508.5" cy="392.12" r="2.75"/>
<circle cx="508.5" cy="393.23" r="2.75"/>
<circle cx="508.5" cy="394.35" r="2.75"/>
<circle cx="508.5" cy="395.49" r="2.75"/>
<circle cx="508.5" cy="396.65" r="2.75"/>
<circle cx="508.5" cy="397.83" r="2.75"/>
<circle cx="508.5" cy="399.02" r="2.75"/>
<circle cx="508.5" cy="400.24" r="2.75"/>
<circle cx="508.5" cy="401.47" r="2.75"/>
<circle cx="508.5" cy="402.72" r="2.75"/>
<circle cx="508.5" cy="404" r="2.75"/>
<circle cx="508.5" cy="405.29" r="2.75"/>
<circle cx="508.5" cy="406.61" r="2.75"/>
<circle cx="508.5" cy="407.96" r="2.75"/>
<circle cx="508.5" cy="409.32" r="2.75"/>
<circle cx="508.5" cy="410.71" r="2.75"/>
<circle cx="508.5" cy="412.13" r="2.75"/>
<circle cx="508.5" cy="413.58" r="2.75"/>
<circle cx="508.5" cy="415.05" r="2.75"/>
<circle cx="508.5" cy="416.55" r="2.75"/>
<circle cx="508.5" cy="418.08" r="2.75"/>
<circle cx="508.5" cy="419.65" r="2.75"/>
<circle cx="508.5" cy="421.24" r="2.75"/>
<circle cx="508.5" cy="422.88" r="2.75"/>
<circle cx="508.5" cy="424.54" r="2.75"/>
<circle cx="508.5" cy="426.25" r="2.75"/>
<circle cx="508.5" cy="427.99" r="2.75"/>
<circle cx="508.5" cy="429.78" r="2.75"/>
<circle cx="508.5" cy="431.6" r="2.75"/>
<circle cx="508.5" cy="433.48" r="2.75"/>
<circle cx="508.5" cy="435.4" r="2.75"/>
<circle cx="508.5" cy="437.37" r="2.75"/>
<circle cx="508.5" cy="439.39" r="2.75"/>
<circle cx="508.5" cy="441.47" r="2.75"/>
<circle cx="508.5" cy="443.6" r="2.75"/>
<circle cx="508.5" cy="445.8" r="2.75"/>
<circle cx="508.5" cy="448.07" r="2.75"/>
<circle cx="508.5" cy="450.4" r="2.75"/>
<circle cx="508.5" cy="452.81" r="2.75"/>
<circle cx="508.5" cy="455.3" r="2.75"/>
<circle cx="508.5" cy="457.87" r="2.75"/>
<circle cx="508.5" cy="460.53" r="2.75"/>
<circle cx="508.5" cy="463.29" r="2.75"/>
<circle cx="508.5" cy="466.15" r="2.75"/>
<circle cx="508.5" cy="469.12" r="2.75"/>
<circle cx="508.5" cy="472.22" r="2.75"/>
<circle cx="508.5" cy="475.45" r="2.75"/>
<circle cx="508.5" cy="478.82" r="2.75"/>
<circle cx="508.5" cy="482.35" r="2.75"/>
<circle cx="508.5" cy="486.05" r="2.75"/>
<circle cx="508.5" cy="489.94" r="2.75"/>
<circle cx="508.5" cy="494.04" r="2.75"/>
<circle cx="508.5" cy="498.37" r="2.75"/>
<circle cx="508.5" cy="502.97" r="2.75"/>
<circle cx="508.5" cy="507.87" r="2.75"/>
<circle cx="508.5" cy="513.1" r="2.75"/>
<circle cx="508.5" cy="518.72" r="2.75"/>
<circle cx="508.5" cy="524.79" r="2.75"/>
<circle cx="508.5" cy="531.39" r="2.75"/>
<circle cx="508.5" cy="538.62" r="2.75"/>
<circle cx="508.5" cy="546.61" r="2.75"/>
<circle cx="508.5" cy="555.54" r="2.75"/>
<circle cx="508.5" cy="565.67" r="2.75"/>
<circle cx="508.5" cy="577.36" r="2.75"/>
<circle cx="508.5" cy="591.19" r="2.75"/>
<circle cx="508.5" cy="608.12" r="2.75"/>
<circle cx="508.5" cy="629.94" r="2.75"/>
<circle cx="630.8" cy="314.6" r="2.75"/>
<circle cx="630.8" cy="347.2" r="2.75"/>
<circle cx="630.8" cy="364.1" r="2.75"/>
<circle cx="630.8" cy="372.6" r="2.75"/>
<circle cx="630.8" cy="374.6" r="2.75"/>
<circle cx="630.8" cy="382.82" r="2.75"/>
<circle cx="630.8" cy="383.8" r="2.75"/>
<circle cx="630.8" cy="384.79" r="2.75"/>
<circle cx="630.8" cy="385.8" r="2.75"/>
<circle cx="630.8" cy="386.82" r="2.75"/>
<circle cx="630.8" cy="387.85" r="2.75"/>
<circle cx="630.8" cy="388.9" r="2.75"/>
<circle cx="630.8" cy="389.96" r="2.75"/>
<circle cx="630.8" cy="391.03" r="2.75"/>
<circle cx="630.8" cy="392.12" r="2.75"/>
<circle cx="630.8" cy="393.23" r="2.75"/>
<circle cx="630.8" cy="394.35" r="2.75"/>
<circle cx="630.8" cy="395.49" r="2.75"/>
<circle cx="630.8" cy="396.65" r="2.75"/>
<circle cx="630.8" cy="397.83" r="2.75"/>
<circle cx="630.8" cy="399.02" r="2.75"/>
<circle cx="630.8" cy="400.24" r="2.75"/>
<circle cx="630.8" cy="401.47" r="2.75"/>
<circle cx="630.8" cy="402.72" r="2.75"/>
<circle cx="630.8" cy="404" r="2.75"/>
<circle cx="630.8" cy="405.29" r="2.75"/>
<circle cx="630.8" cy="406.61" r="2.75"/>
<circle cx="630.8" cy="407.96" r="2.75"/>
<circle cx="630.8" cy="409.32" r="2.75"/>
<circle cx="630.8" cy="410.71" r="2.75"/>
<circle cx="630.8" cy="412.13" r="2.75"/>
<circle cx="630.8" cy="413.58" r="2.75"/>
<circle cx="630.8" cy="415.05" r="2.75"/>
<circle cx="630.8" cy="416.55" r="2.75"/>
<circle cx="630.8" cy="418.08" r="2.75"/>
<circle cx="630.8" cy="419.65" r="2.75"/>
<circle cx="630.8" cy="421.24" r="2.75"/>
<circle cx="630.8" cy="422.88" r="2.75"/>
<circle cx="630.8" cy="424.54" r="2.75"/>
<circle cx="630.8" cy="426.25" r="2.75"/>
<circle cx="630.8" cy="427.99" r="2.75"/>
<circle cx="630.8" cy="429.78" r="2.75"/>
<circle cx="630.8" cy="431.6" r="2.75"/>
<circle cx="630.8" cy="433.48" r="2.75"/>
<circle cx="630.8" cy="435.4" r="2.75"/>
<circle cx="630.8" cy="437.37" r="2.75"/>
<circle cx="630.8" cy="439.39" r="2.75"/>
<circle cx="630.8" cy="441.47" r="2.75"/>
<circle cx="630.8" cy="443.6" r="2.75"/>
<circle cx="630.8" cy="445.8" r="2.75"/>
<circle cx="630.8" cy="448.07" r="2.75"/>
<circle cx="630.8" cy="450.4" r="2.75"/>
<circle cx="630.8" cy="452.81" r="2.75"/>
<circle cx="630.8" cy="455.3" r="2.75"/>
<circle cx="630.8" cy="457.87" r="2.75"/>
<circle cx="630.8" cy="460.53" r="2.75"/>
<circle cx="630.8" cy="463.29" r="2.75"/>
<circle cx="630.8" cy="466.15" r="2.75"/>
<circle cx="630.8" cy="469.12" r="2.75"/>
<circle cx="630.8" cy="472.22" r="2.75"/>
<circle cx="630.8" cy="475.45" r="2.75"/>
<circle cx="630.8" cy="478.82" r="2.75"/>
<circle cx="630.8" cy="482.35" r="2.75"/>
<circle cx="630.8" cy="486.05" r="2.75"/>
<circle cx="630.8" cy="489.94" r="2.75"/>
<circle cx="630.8" cy="494.04" r="2.75"/>
<circle cx="630.8" cy="498.37" r="2.75"/>
<circle cx="630.8" cy="502.97" r="2.75"/>
<circle cx="630.8" cy="507.87" r="2.75"/>
<circle cx="630.8" cy="513.1" r="2.75"/>
<circle cx="630.8" cy="518.72" r="2.75"/>
<circle cx="630.8" cy="524.79" r="2.75"/>
<circle cx="630.8" cy="531.39" r="2.75"/>
<circle cx="630.8" cy="538.62" r="2.75"/>
<circle cx="630.8" cy="546.61" r="2.75"/>
<circle cx="630.8" cy="555.54" r="2.75"/>
<circle cx="630.8" cy="565.67" r="2.75"/>
<circle cx="630.8" cy="577.36" r="2.75"/>
<circle cx="630.8" cy="591.19" r="2.75"/>
<circle cx="630.8" cy="629.94" r="2.75"/>
<circle cx="630.8" cy="660.69" r="2.75"/>
<circle cx="630.8" cy="713.26" r="2.75"/>
<circle cx="752.9" cy="326.9" r="2.75"/>
<circle cx="752.9" cy="362.48" r="2.75"/>
<circle cx="752.9" cy="402.72" r="2.75"/>
<circle cx="752.9" cy="407.96" r="2.75"/>
<circle cx="752.9" cy="435.4" r="2.75"/>
<circle cx="752.9" cy="437.37" r="2.75"/>
<circle cx="752.9" cy="439.39" r="2.75"/>
<circle cx="752.9" cy="441.47" r="2.75"/>
<circle cx="752.9" cy="443.6" r="2.75"/>
<circle cx="752.9" cy="455.3" r="2.75"/>
<circle cx="752.9" cy="457.87" r="2.75"/>
<circle cx="752.9" cy="466.15" r="2.75"/>
<circle cx="752.9" cy="469.12" r="2.75"/>
<circle cx="752.9" cy="472.22" r="2.75"/>
<circle cx="752.9" cy="475.45" r="2.75"/>
<circle cx="752.9" cy="478.82" r="2.75"/>
<circle cx="752.9" cy="482.35" r="2.75"/>
<circle cx="752.9" cy="486.05" r="2.75"/>
<circle cx="752.9" cy="489.94" r="2.75"/>
<circle cx="752.9" cy="494.04" r="2.75"/>
<circle cx="752.9" cy="498.37" r="2.75"/>
<circle cx="752.9" cy="502.97" r="2.75"/>
<circle cx="752.9" cy="507.87" r="2.75"/>
<circle cx="752.9" cy="513.1" r="2.75"/>
<circle cx="752.9" cy="518.72" r="2.75"/>
<circle cx="752.9" cy="524.79" r="2.75"/>
<circle cx="752.9" cy="531.39" r="2.75"/>
<circle cx="752.9" cy="538.62" r="2.75"/>
<circle cx="752.9" cy="546.61" r="2.75"/>
<circle cx="752.9" cy="555.54" r="2.75"/>
<circle cx="752.9" cy="565.67" r="2.75"/>
<circle cx="752.9" cy="577.36" r="2.75"/>
<circle cx="752.9" cy="591.19" r="2.75"/>
<circle cx="752.9" cy="608.12" r="2.75"/>
<circle cx="752.9" cy="629.94" r="2.75"/>
<circle cx="875.1" cy="341.4" r="2.75"/>
<circle cx="875.1" cy="393.4" r="2.75"/>
<circle cx="875.1" cy="408" r="2.75"/>
<circle cx="875.1" cy="419.5" r="2.75"/>
<circle cx="875.1" cy="445.7" r="2.75"/>
<circle cx="875.1" cy="455.2" r="2.75"/>
<circle cx="997.4" cy="380.4" r="2.75"/>
<circle cx="997.4" cy="448.1" r="2.75"/>
<circle cx="997.4" cy="463.5" r="2.75"/>
<circle cx="997.4" cy="478.6" r="2.75"/>
<circle cx="997.4" cy="490.1" r="2.75"/>
<circle cx="997.4" cy="555.9" r="2.75"/>
<circle cx="1119.3" cy="409.5" r="2.75"/>
<circle cx="1119.3" cy="412.5" r="2.75"/>
<circle cx="1119.3" cy="508.4" r="2.75"/>
<circle cx="1241.6" cy="408" r="2.75"/>
</g>
<g stroke="#000" fill="none">
<line x1="152.3" y1="14.7" x2="152.3" y2="716.3" stroke-width="5.2"/>
<line x1="149.7" y1="713.6" x2="1272" y2="713.6" stroke-width="5.4"/>
<line x1="118.3" y1="713.26" x2="152" y2="713.26" stroke-width="2.7" stroke-linecap="round"/>
<line x1="135.6" y1="660.69" x2="152" y2="660.69" stroke-width="2.7" stroke-linecap="round"/>
<line x1="135.6" y1="629.94" x2="152" y2="629.94" stroke-width="2.7" stroke-linecap="round"/>
<line x1="135.6" y1="608.12" x2="152" y2="608.12" stroke-width="2.7" stroke-linecap="round"/>
<line x1="135.6" y1="591.19" x2="152" y2="591.19" stroke-width="2.7" stroke-linecap="round"/>
<line x1="135.6" y1="577.36" x2="152" y2="577.36" stroke-width="2.7" stroke-linecap="round"/>
<line x1="135.6" y1="565.67" x2="152" y2="565.67" stroke-width="2.7" stroke-linecap="round"/>
<line x1="135.6" y1="555.54" x2="152" y2="555.54" stroke-width="2.7" stroke-linecap="round"/>
<line x1="135.6" y1="546.61" x2="152" y2="546.61" stroke-width="2.7" stroke-linecap="round"/>
<line x1="118.3" y1="538.62" x2="152" y2="538.62" stroke-width="2.7" stroke-linecap="round"/>
<line x1="135.6" y1="486.05" x2="152" y2="486.05" stroke-width="2.7" stroke-linecap="round"/>
<line x1="135.6" y1="455.3" x2="152" y2="455.3" stroke-width="2.7" stroke-linecap="round"/>
<line x1="135.6" y1="433.48" x2="152" y2="433.48" stroke-width="2.7" stroke-linecap="round"/>
<line x1="135.6" y1="416.55" x2="152" y2="416.55" stroke-width="2.7" stroke-linecap="round"/>
<line x1="135.6" y1="402.72" x2="152" y2="402.72" stroke-width="2.7" stroke-linecap="round"/>
<line x1="135.6" y1="391.03" x2="152" y2="391.03" stroke-width="2.7" stroke-linecap="round"/>
<line x1="135.6" y1="380.9" x2="152" y2="380.9" stroke-width="2.7" stroke-linecap="round"/>
<line x1="135.6" y1="371.97" x2="152" y2="371.97" stroke-width="2.7" stroke-linecap="round"/>
<line x1="118.3" y1="363.98" x2="152" y2="363.98" stroke-width="2.7" stroke-linecap="round"/>
<line x1="135.6" y1="311.41" x2="152" y2="311.41" stroke-width="2.7" stroke-linecap="round"/>
<line x1="135.6" y1="280.66" x2="152" y2="280.66" stroke-width="2.7" stroke-linecap="round"/>
<line x1="135.6" y1="258.84" x2="152" y2="258.84" stroke-width="2.7" stroke-linecap="round"/>
<line x1="135.6" y1="241.91" x2="152" y2="241.91" stroke-width="2.7" stroke-linecap="round"/>
<line x1="135.6" y1="228.08" x2="152" y2="228.08" stroke-width="2.7" stroke-linecap="round"/>
<line x1="135.6" y1="216.39" x2="152" y2="216.39" stroke-width="2.7" stroke-linecap="round"/>
<line x1="135.6" y1="206.26" x2="152" y2="206.26" stroke-width="2.7" stroke-linecap="round"/>
<line x1="135.6" y1="197.33" x2="152" y2="197.33" stroke-width="2.7" stroke-linecap="round"/>
<line x1="118.3" y1="189.34" x2="152" y2="189.34" stroke-width="2.7" stroke-linecap="round"/>
<line x1="135.6" y1="136.77" x2="152" y2="136.77" stroke-width="2.7" stroke-linecap="round"/>
<line x1="135.6" y1="106.02" x2="152" y2="106.02" stroke-width="2.7" stroke-linecap="round"/>
<line x1="135.6" y1="84.2" x2="152" y2="84.2" stroke-width="2.7" stroke-linecap="round"/>
<line x1="135.6" y1="67.27" x2="152" y2="67.27" stroke-width="2.7" stroke-linecap="round"/>
<line x1="135.6" y1="53.44" x2="152" y2="53.44" stroke-width="2.7" stroke-linecap="round"/>
<line x1="135.6" y1="41.75" x2="152" y2="41.75" stroke-width="2.7" stroke-linecap="round"/>
<line x1="135.6" y1="31.62" x2="152" y2="31.62" stroke-width="2.7" stroke-linecap="round"/>
<line x1="135.6" y1="22.69" x2="152" y2="22.69" stroke-width="2.7" stroke-linecap="round"/>
<line x1="152.2" y1="713" x2="152.2" y2="747.1" stroke-width="2.7" stroke-linecap="round"/>
<line x1="376.16" y1="713" x2="376.16" y2="747.1" stroke-width="2.7" stroke-linecap="round"/>
<line x1="600.12" y1="713" x2="600.12" y2="747.1" stroke-width="2.7" stroke-linecap="round"/>
<line x1="824.08" y1="713" x2="824.08" y2="747.1" stroke-width="2.7" stroke-linecap="round"/>
<line x1="1048.04" y1="713" x2="1048.04" y2="747.1" stroke-width="2.7" stroke-linecap="round"/>
<line x1="1272" y1="713" x2="1272" y2="747.1" stroke-width="2.7" stroke-linecap="round"/>
<line x1="264.18" y1="713" x2="264.18" y2="729.6" stroke-width="2.7" stroke-linecap="round"/>
<line x1="488.14" y1="713" x2="488.14" y2="729.6" stroke-width="2.7" stroke-linecap="round"/>
<line x1="712.1" y1="713" x2="712.1" y2="729.6" stroke-width="2.7" stroke-linecap="round"/>
<line x1="936.06" y1="713" x2="936.06" y2="729.6" stroke-width="2.7" stroke-linecap="round"/>
<line x1="1160.02" y1="713" x2="1160.02" y2="729.6" stroke-width="2.7" stroke-linecap="round"/>
</g>
<g font-family="Liberation Sans, sans-serif" font-size="33" fill="#000">
<text x="109.5" y="25.7" text-anchor="end">100</text>
<text x="109.5" y="201.14" text-anchor="end">10</text>
<text x="109.5" y="375.78" text-anchor="end">1</text>
<text x="109.5" y="550.42" text-anchor="end">0.1</text>
<text x="109.5" y="725.06" text-anchor="end">0.01</text>
<text x="152.2" y="787.5" text-anchor="middle">0</text>
<text x="376.16" y="787.5" text-anchor="middle">22</text>
<text x="600.12" y="787.5" text-anchor="middle">44</text>
<text x="824.08" y="787.5" text-anchor="middle">66</text>
<text x="1048.04" y="787.5" text-anchor="middle">88</text>
<text x="1272" y="787.5" text-anchor="middle">110</text>
</g>
<text x="670.1" y="862.7" text-anchor="middle" font-family="Liberation Serif, serif" font-weight="bold" font-size="45" fill="#000">Time after dose (h)</text>
<text transform="translate(33.8,386.7) rotate(-90)" x="0" y="0" text-anchor="middle" font-family="Liberation Serif, serif" font-weight="bold" font-size="45" fill="#000">Concentrations (µmol/L)</text>
</svg>
</body></html>
